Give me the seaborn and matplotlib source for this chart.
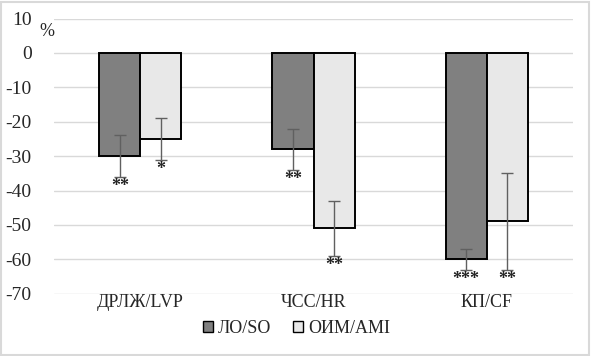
import numpy as np
import pandas as pd
import matplotlib

matplotlib.use("Agg")
import matplotlib.pyplot as plt
import seaborn as sns
from matplotlib.patches import Patch, Rectangle

# данные
categories = ["ДРЛЖ/LVP", "ЧСС/HR", "КП/CF"]
groups = ["ЛО/SO", "ОИМ/AMI"]
so_values = [-30, -28, -60]
ami_values = [-25, -51, -49]
so_err = [6, 6, 3]
ami_err = [6, 8, 14]
so_stars = ["**", "**", "***"]
ami_stars = ["*", "**", "**"]
yticks = [10, 0, -10, -20, -30, -40, -50, -60, -70]

df = pd.DataFrame({
    "cat": categories * 2,
    "group": [groups[0]] * 3 + [groups[1]] * 3,
    "value": so_values + ami_values,
})

sns.set_style("white")
plt.rcParams["font.family"] = ["Liberation Serif", "DejaVu Serif"]
plt.rcParams["axes.unicode_minus"] = False

fig = plt.figure(figsize=(5.91, 3.56), dpi=100)
ax = fig.add_axes([0.091, 0.175, 0.879, 0.773])

palette = {groups[0]: "#808080", groups[1]: "#e8e8e8"}
sns.barplot(data=df, x="cat", y="value", hue="group", palette=palette,
            errorbar=None, width=0.474, edgecolor="black", linewidth=1.4,
            ax=ax, legend=False, zorder=2)

ax.set_ylim(-70, 10)
ax.set_xlim(-0.5, 2.5)
ax.set_yticks(yticks)
ax.yaxis.grid(True, color="#d9d9d9", linewidth=1)
ax.set_axisbelow(True)
for s in ax.spines.values():
    s.set_visible(False)
ax.set_xlabel("")
ax.set_ylabel("")
ax.tick_params(axis="y", labelsize=14, length=0, pad=16)
ax.tick_params(axis="x", labelsize=13, length=0, pad=0)

# планки погрешностей и звёздочки
bars = ax.patches
vals = so_values + ami_values
errs = so_err + ami_err
stars = so_stars + ami_stars
for b, v, e, st in zip(bars, vals, errs, stars):
    xc = b.get_x() + b.get_width() / 2
    ax.errorbar(xc, v, yerr=e, color="#606060", capsize=4, elinewidth=1,
                capthick=1, zorder=3)
    ax.text(xc, v - e - 0.4, st, ha="center", va="top", fontsize=13,
            fontweight="bold", color="#222222", zorder=4)

ax.text(-0.013, 0.953, "%", transform=ax.transAxes, fontsize=13,
        ha="center", va="center")

handles = [Patch(facecolor=palette[g], edgecolor="black", linewidth=1)
           for g in groups]
fig.legend(handles, groups, loc="center", bbox_to_anchor=(0.502, 0.078),
           ncol=2, frameon=False, fontsize=13, handlelength=0.55,
           handleheight=0.55, handletextpad=0.3, columnspacing=1.2)

fig.patches.append(Rectangle((0.002, 0.003), 0.994, 0.992,
                             transform=fig.transFigure, fill=False,
                             edgecolor="#d9d9d9", linewidth=1.5))

plt.savefig("out.png", dpi=100)
plt.close()
